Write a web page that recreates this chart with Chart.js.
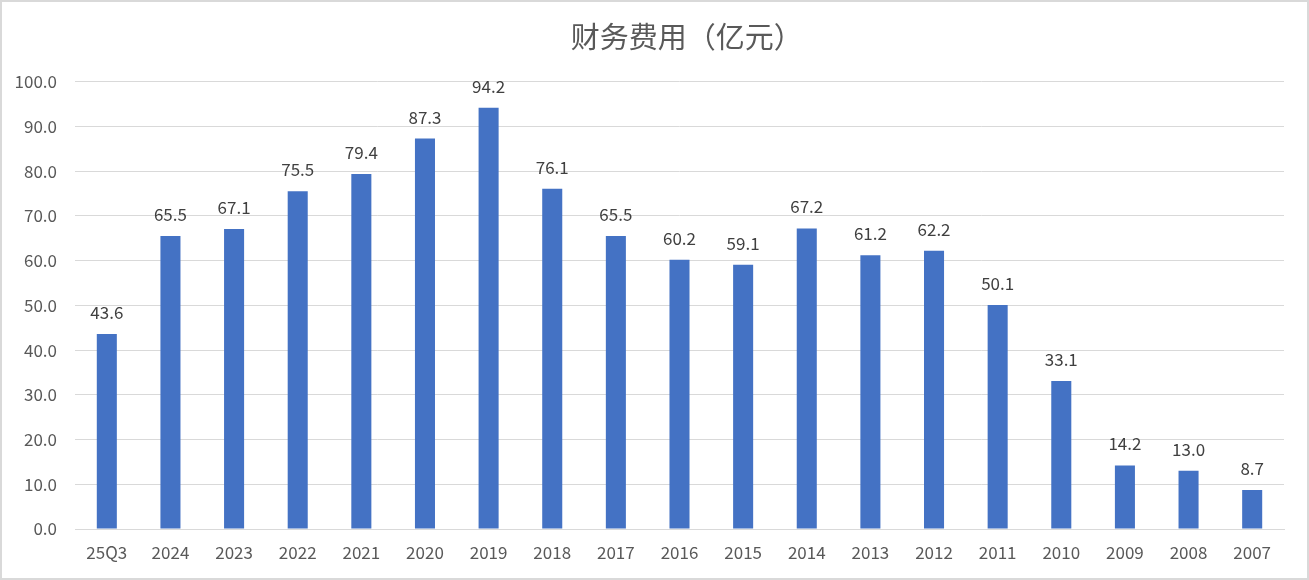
<!DOCTYPE html>
<html>
<head>
<meta charset="utf-8">
<script src="https://cdn.jsdelivr.net/npm/chart.js@4"></script>
<style>
  html, body { margin: 0; padding: 0; background: #fff; }
  #wrap { width: 1309px; height: 580px; position: relative; }
</style>
</head>
<body>
<div id="wrap"><canvas id="c" width="1309" height="580"></canvas></div>
<script>
  "use strict";

  /* ---- data ---- */
  var categories = ["25Q3", "2024", "2023", "2022", "2021", "2020", "2019", "2018", "2017", "2016",
                    "2015", "2014", "2013", "2012", "2011", "2010", "2009", "2008", "2007"];
  var values = [43.6, 65.5, 67.1, 75.5, 79.4, 87.3, 94.2, 76.1, 65.5, 60.2,
                59.1, 67.2, 61.2, 62.2, 50.1, 33.1, 14.2, 13.0, 8.7];
  var yTicks = [0, 10, 20, 30, 40, 50, 60, 70, 80, 90, 100];

  var FONT = "'Noto Sans CJK SC', 'Noto Sans', sans-serif";

  // white background + thin grey frame
  var frame = {
    id: "frame",
    beforeDraw: function (chart) {
      var ctx = chart.ctx;
      ctx.save();
      ctx.fillStyle = "#fff";
      ctx.fillRect(0, 0, chart.width, chart.height);
      ctx.strokeStyle = "#d9d9d9";
      ctx.lineWidth = 2;
      ctx.strokeRect(1, 1, chart.width - 2, chart.height - 2);
      ctx.restore();
    }
  };

  // value labels above the bars
  var valueLabels = {
    id: "valueLabels",
    afterDatasetsDraw: function (chart) {
      var ctx = chart.ctx;
      var meta = chart.getDatasetMeta(0);
      ctx.save();
      ctx.fillStyle = "#404040";
      ctx.font = "17px " + FONT;
      ctx.textAlign = "center";
      ctx.textBaseline = "alphabetic";
      meta.data.forEach(function (bar, i) {
        ctx.fillText(values[i].toFixed(1), bar.x, bar.y - 15);
      });
      ctx.restore();
    }
  };

  new Chart(document.getElementById("c"), {
    type: "bar",
    data: {
      labels: categories,
      datasets: [{
        label: "财务费用",
        data: values,
        backgroundColor: "#4472C4",
        categoryPercentage: 1,
        barPercentage: 0.315
      }]
    },
    options: {
      responsive: false,
      animation: false,
      layout: { padding: { left: 0, right: 25, top: 0, bottom: 0 } },
      plugins: {
        legend: { display: false },
        tooltip: { enabled: false },
        title: {
          display: true,
          fullSize: false,
          text: "\u2002财务费用（亿元）",
          color: "#595959",
          font: { family: FONT, size: 29, weight: "normal" },
          padding: { top: 20, bottom: 27 }
        }
      },
      scales: {
        x: {
          grid: { display: false, drawTicks: false },
          border: { display: true, color: "#d9d9d9", width: 1 },
          ticks: {
            color: "#595959",
            font: { family: FONT, size: 17 },
            padding: 13,
            maxRotation: 0,
            autoSkip: false
          },
          afterFit: function (s) { s.height = 51; }
        },
        y: {
          min: 0,
          max: 100,
          grid: { color: "#d9d9d9", lineWidth: 1, drawTicks: false },
          border: { display: false },
          afterBuildTicks: function (s) {
            s.ticks = yTicks.map(function (v) { return { value: v }; });
          },
          ticks: {
            color: "#595959",
            font: { family: FONT, size: 17 },
            padding: 18,
            callback: function (v) { return Number(v).toFixed(1); }
          },
          afterFit: function (s) { s.width = 75; }
        }
      }
    },
    plugins: [frame, valueLabels]
  });
</script>
</body>
</html>
